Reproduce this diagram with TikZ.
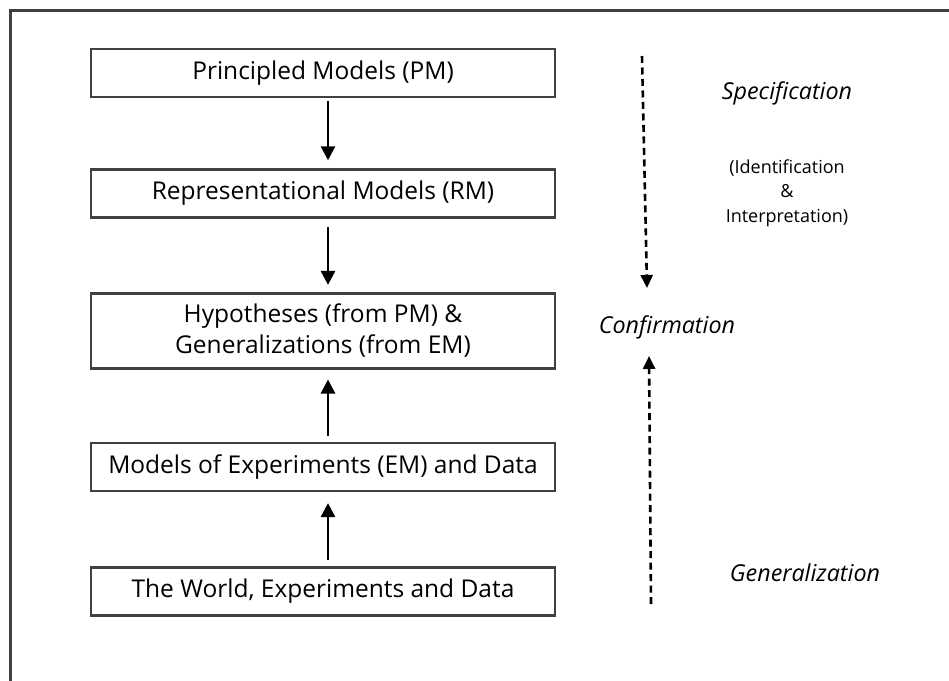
\documentclass[tikz,border=0pt]{standalone}
\usepackage{fontspec}
\setmainfont{Open Sans}
\usepackage{tikz}
\usetikzlibrary{arrows.meta,positioning}

\begin{document}
\begin{tikzpicture}[
    x=1pt, y=-1pt,
    >={Triangle[length=14pt,width=14pt]},
    level/.style={draw=black!75, line width=2.6pt, rectangle, minimum width=464pt, minimum height=48pt, align=center, font=\fontsize{24.5}{31}\selectfont},
    link/.style={->, line width=2.8pt},
    flow/.style={-{Triangle[length=13pt,width=12pt]}, line width=2.6pt, dash pattern=on 7pt off 4.5pt},
    tag/.style={font=\fontsize{23.3}{26}\selectfont\itshape},
    note/.style={align=center, font=\fontsize{18}{24.5}\selectfont},
    node distance=70pt
]
\clip (0,0) rectangle (949,680);
\fill[white] (0,0) rectangle (949,680);
\draw[black!75, line width=3pt] (10,10) rectangle (990,720);

\node[level] (pm) at (323,73) {Principled Models (PM)};
\node[level, below=70pt of pm] (rm) {Representational Models (RM)};
\node[level, below=73pt of rm, minimum height=75pt] (hyp) {Hypotheses (from PM) \&\\Generalizations (from EM)};
\node[level, below=72pt of hyp] (em) {Models of Experiments (EM) and Data};
\node[level, below=74pt of em] (world) {The World, Experiments and Data};

\node[tag] (spec) at (787,93) {Specification};
\node[note] (ident) at (787,193) {(Identification\\\&\\Interpretation)};
\node[tag] (conf) at (667,327) {Confirmation};
\node[tag] (gen) at (805,573) {Generalization};

\coordinate (spec_a) at (642,56);
\coordinate (spec_b) at (647,288);
\coordinate (gen_a) at (651,604);
\coordinate (gen_b) at (649,356);

\draw[link, shorten <=3pt, shorten >=8pt] ([xshift=5pt]pm.south) -- ([xshift=5pt]rm.north);
\draw[link, shorten <=8pt, shorten >=7pt] ([xshift=5pt]rm.south) -- ([xshift=5pt]hyp.north);
\draw[link, shorten <=6pt, shorten >=10pt] ([xshift=5pt]em.north) -- ([xshift=5pt]hyp.south);
\draw[link, shorten <=6pt, shorten >=11pt] ([xshift=5pt]world.north) -- ([xshift=5pt]em.south);
\draw[flow] (spec_a) -- (spec_b);
\draw[flow] (gen_a) -- (gen_b);
\end{tikzpicture}
\end{document}
